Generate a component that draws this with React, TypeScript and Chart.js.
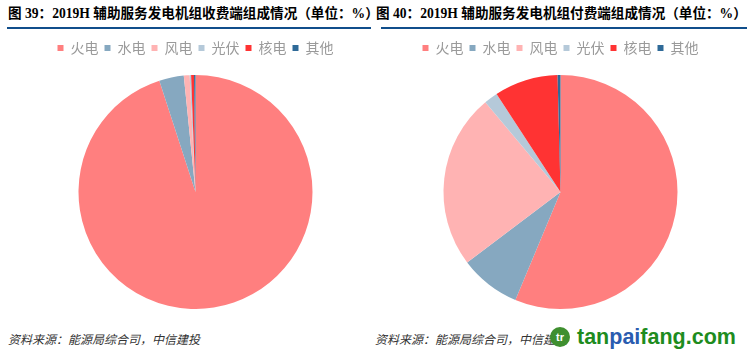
import React, { useEffect, useRef } from 'react';
import { Chart, registerables } from 'chart.js';

Chart.register(...registerables);

const categories = ['火电', '水电', '风电', '光伏', '核电', '其他'];
const receiveShares = [95.0, 3.4, 0.8, 0.2, 0.4, 0.2];
const payShares = [56.3, 8.4, 24.2, 1.9, 8.8, 0.4];
const sliceColors = ['#FF7F7F', '#86A8C0', '#FFB3B3', '#B5C9D9', '#FF3333', '#2F6A98'];
const titleLeft = '图 39：2019H 辅助服务发电机组收费端组成情况（单位：%）';
const titleRight = '图 40：2019H 辅助服务发电机组付费端组成情况（单位：%）';
const sourceText = '资料来源：能源局综合司，中信建投';

const legendGap = {
  id: 'legendGap',
  beforeInit(chart: any) {
    const legend = chart.legend;
    if (!legend) return;
    const orig = legend.fit;
    legend.fit = function () {
      orig.call(this);
      this.height += 10;
    };
  },
};

function PieChart({ values, padLeft, left }: { values: number[]; padLeft: number; left: number }) {
  const ref = useRef<HTMLCanvasElement | null>(null);
  useEffect(() => {
    if (!ref.current) return;
    const chart = new Chart(ref.current, {
      type: 'pie',
      data: {
        labels: categories,
        datasets: [{ data: values, backgroundColor: sliceColors, borderWidth: 0 }],
      },
      options: {
        responsive: false,
        animation: false,
        devicePixelRatio: 1,
        layout: { padding: { left: padLeft } },
        plugins: {
          legend: {
            position: 'top',
            labels: {
              boxWidth: 6,
              boxHeight: 6,
              padding: 6,
              color: '#9A9A9A',
              font: { size: 14, family: '"Noto Sans CJK SC", sans-serif' },
            },
          },
          tooltip: { enabled: false },
        },
      },
      plugins: [legendGap as any],
    } as any);
    return () => chart.destroy();
  }, []);
  return (
    <canvas
      ref={ref}
      width={373}
      height={274}
      style={{ position: 'absolute', left, top: 35, width: 373, height: 274 }}
    />
  );
}

const titleStyle: React.CSSProperties = {
  position: 'absolute',
  top: 6,
  fontFamily: '"Liberation Serif", "Noto Sans CJK SC", serif',
  fontWeight: 'bold',
  fontSize: 13.6,
  lineHeight: '16px',
  color: '#000',
  whiteSpace: 'nowrap',
};

const sourceStyle: React.CSSProperties = {
  position: 'absolute',
  top: 332,
  fontFamily: '"Noto Sans CJK SC", sans-serif',
  fontStyle: 'italic',
  fontSize: 12,
  lineHeight: '14px',
  color: '#333',
  whiteSpace: 'nowrap',
};

export default function App() {
  return (
    <div
      style={{
        position: 'absolute',
        left: 0,
        top: 0,
        width: 747,
        height: 356,
        overflow: 'hidden',
        background: '#fff',
      }}
    >
      <div style={{ ...titleStyle, left: 8 }}>{titleLeft}</div>
      <div style={{ ...titleStyle, left: 376, background: '#fff' }}>{titleRight}</div>
      <div style={{ position: 'absolute', left: 7, top: 27, width: 364, height: 2, background: '#104E8B' }} />
      <div style={{ position: 'absolute', left: 381, top: 27, width: 366, height: 2, background: '#104E8B' }} />
      <PieChart values={receiveShares} padLeft={18} left={0} />
      <PieChart values={payShares} padLeft={0} left={374} />
      <div style={{ ...sourceStyle, left: 8 }}>{sourceText}</div>
      <div style={{ ...sourceStyle, left: 375 }}>{sourceText}</div>
      <div
        style={{
          position: 'absolute',
          left: 550,
          top: 327,
          width: 20,
          height: 20,
          borderRadius: 10,
          background: '#3F8F2F',
          color: '#fff',
          fontFamily: '"Liberation Sans", sans-serif',
          fontWeight: 'bold',
          fontSize: 11,
          lineHeight: '20px',
          textAlign: 'center',
        }}
      >
        tr
      </div>
      <div
        style={{
          position: 'absolute',
          left: 577,
          top: 324,
          fontFamily: '"Liberation Sans", sans-serif',
          fontWeight: 'bold',
          fontSize: 21.5,
          lineHeight: '26px',
          color: '#1E8C1E',
          whiteSpace: 'nowrap',
        }}
      >
        tan<span style={{ color: '#2A5CB0' }}>pai</span>fang.com
      </div>
    </div>
  );
}
